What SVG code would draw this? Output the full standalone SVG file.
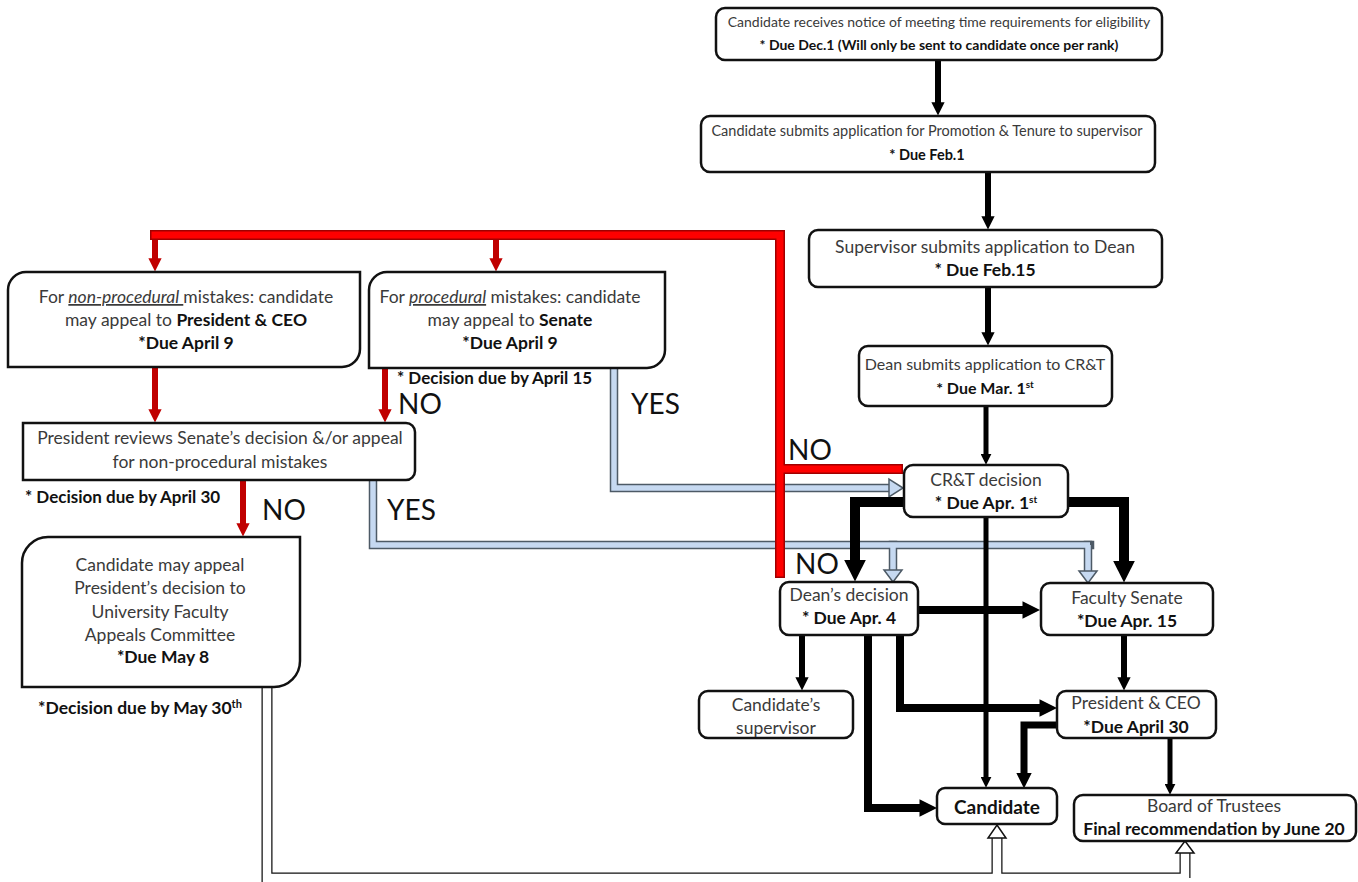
<svg xmlns="http://www.w3.org/2000/svg" width="1358" height="882" viewBox="0 0 1358 882">
<style>
.box{fill:#fff;stroke:#111;stroke-width:2.5}
.t{font-family:Lato,"Liberation Sans",sans-serif;font-size:17.5px;fill:#3a3a3a;text-anchor:middle}
.s{font-size:14px}
.b{font-weight:bold;fill:#111}
.l{text-anchor:start}
.big{font-family:Lato,"Liberation Sans",sans-serif;font-size:28px;fill:#111}
.blk{fill:none;stroke:#000;stroke-linejoin:miter;stroke-linecap:butt}
.bo{fill:none;stroke:#4d5a66;stroke-width:8.5;stroke-linecap:square;stroke-linejoin:miter}
.bi{fill:none;stroke:#c6d9f1;stroke-width:5.5;stroke-linejoin:miter}
.bh{fill:#c6d9f1;stroke:#4d5a66;stroke-width:1.5}
.ro{fill:none;stroke:#a00000;stroke-width:10;stroke-linejoin:miter}
.ri{fill:none;stroke:#ff0000;stroke-width:7;stroke-linejoin:miter}
.rt{fill:none;stroke:#c00000;stroke-width:6}
.ho{fill:none;stroke:#111;stroke-width:11;stroke-linejoin:miter}
.hi{fill:none;stroke:#fff;stroke-width:8.5;stroke-linejoin:miter}
.hh{fill:#fff;stroke:#111;stroke-width:1.5}
</style>
<defs>
<marker id="ah" viewBox="0 0 10 10" refX="2" refY="5" markerWidth="2.2" markerHeight="2.2" orient="auto" markerUnits="strokeWidth"><path d="M0,0 L10,5 L0,10 Z" fill="#000"/></marker>
<marker id="rh" viewBox="0 0 10 10" refX="2" refY="5" markerWidth="2.2" markerHeight="2.2" orient="auto" markerUnits="strokeWidth"><path d="M0,0 L10,5 L0,10 Z" fill="#c00000"/></marker>
</defs>

<g id="connectors">
  <!-- blue YES paths -->
  <path class="bo" d="M614,368 V488 H889"/>
  <path class="bo" d="M373,480 V545 H1090"/>
  <path class="bo" d="M893,545 V568"/>
  <path class="bo" d="M1088,545 V569"/>
  <path class="bi" d="M614,368 V488 H891"/>
  <path class="bi" d="M373,480 V545 H1090"/>
  <path class="bi" d="M893,545 V571"/>
  <path class="bi" d="M1088,545 V572"/>
  <polygon class="bh" points="903,488 889,479 889,497"/>
  <polygon class="bh" points="893,582 884,570 902,570"/>
  <polygon class="bh" points="1088,583 1079,571 1097,571"/>

  <!-- black flow -->
  <path class="blk" stroke-width="6" marker-end="url(#ah)" d="M938,60 V105"/>
  <path class="blk" stroke-width="6" marker-end="url(#ah)" d="M988,172 V219"/>
  <path class="blk" stroke-width="6" marker-end="url(#ah)" d="M988,287 V335"/>
  <path class="blk" stroke-width="5" marker-end="url(#ah)" d="M986,406 V456"/>
  <path class="blk" stroke-width="5" marker-end="url(#ah)" d="M986,517 V779"/>
  <path class="blk" stroke-width="10" marker-end="url(#ah)" d="M903,502 H855 V564"/>
  <path class="blk" stroke-width="10" marker-end="url(#ah)" d="M1068,502 H1124 V565"/>
  <path class="blk" stroke-width="8" marker-end="url(#ah)" d="M918,610 H1026"/>
  <path class="blk" stroke-width="6" marker-end="url(#ah)" d="M802,635 V680"/>
  <path class="blk" stroke-width="8" marker-end="url(#ah)" d="M868,635 V808 H923"/>
  <path class="blk" stroke-width="8" marker-end="url(#ah)" d="M900,635 V708 H1043"/>
  <path class="blk" stroke-width="6" marker-end="url(#ah)" d="M1124,635 V680"/>
  <path class="blk" stroke-width="7" marker-end="url(#ah)" d="M1057,725 H1024 V776"/>
  <path class="blk" stroke-width="5" marker-end="url(#ah)" d="M1170,738 V786"/>

  <!-- red NO paths -->
  <path class="ro" d="M150,235 H780 V578"/>
  <path class="ro" d="M780,469 H903"/>
  <path class="ri" d="M151.5,235 H780 V576.5"/>
  <path class="ri" d="M780,469 H901.5"/>
  <path class="rt" marker-end="url(#rh)" d="M155,240 V261"/>
  <path class="rt" marker-end="url(#rh)" d="M496,240 V261"/>
  <path class="rt" marker-end="url(#rh)" d="M155,367 V412"/>
  <path class="rt" marker-end="url(#rh)" d="M385,368 V412"/>
  <path class="rt" marker-end="url(#rh)" d="M243,480 V526"/>

  <!-- hollow path from appeals committee -->
  <path class="ho" d="M267,687 V878 H1185"/>
  <path class="ho" d="M997,878 V838"/>
  <path class="ho" d="M1185,878 V853"/>
  <path class="hi" d="M267,687 V878 H1185"/>
  <path class="hi" d="M997,878 V837"/>
  <path class="hi" d="M1185,878 V852"/>
  <polygon class="hh" points="997,825 1006,838 988,838"/>
  <polygon class="hh" points="1185,841 1194,853 1176,853"/>
</g>

<g id="labels">
  <text class="t b l" style="font-size:17px" x="397" y="384">* Decision due by April 15</text>
  <text class="big" x="398" y="414">NO</text>
  <text class="big" x="631" y="414">YES</text>
  <text class="big" x="788" y="460">NO</text>
  <text class="big" x="795" y="574">NO</text>
  <text class="t b l" style="font-size:17px" x="25" y="503">* Decision due by April 30</text>
  <text class="big" x="262" y="520">NO</text>
  <text class="big" x="387" y="520">YES</text>
  <text class="t b l" style="font-size:17.5px" x="38" y="714">*Decision due by May 30<tspan font-size="11" dy="-6">th</tspan></text>
</g>

<g id="n-notice">
  <rect class="box" x="716" y="8" width="446" height="52" rx="9"/>
  <text class="t s" x="939" y="27">Candidate receives notice of meeting time requirements for eligibility</text>
  <text class="t s b" x="939" y="50">* Due Dec.1 (Will only be sent to candidate once per rank)</text>
</g>
<g id="n-submit">
  <rect class="box" x="701" y="116" width="454" height="56" rx="9"/>
  <text class="t" style="font-size:14.5px" x="927" y="136">Candidate submits application for Promotion &amp; Tenure to supervisor</text>
  <text class="t b" style="font-size:14.5px" x="927" y="160">* Due Feb.1</text>
</g>
<g id="n-supervisor">
  <rect class="box" x="809" y="230" width="353" height="57" rx="9"/>
  <text class="t" x="985" y="253">Supervisor submits application to Dean</text>
  <text class="t b" x="985" y="276">* Due Feb.15</text>
</g>
<g id="n-dean-submits">
  <rect class="box" x="859" y="346" width="253" height="60" rx="9"/>
  <text class="t" style="font-size:16px" x="985" y="370">Dean submits application to CR&amp;T</text>
  <text class="t b" style="font-size:16px" x="985" y="394">* Due Mar. 1<tspan font-size="10" dy="-6">st</tspan></text>
</g>
<g id="n-crt">
  <rect class="box" x="904" y="465" width="164" height="52" rx="9"/>
  <text class="t" x="986" y="486">CR&amp;T decision</text>
  <text class="t b" x="986" y="509">* Due Apr. 1<tspan font-size="10" dy="-6">st</tspan></text>
</g>
<g id="n-dean-decision">
  <rect class="box" x="780" y="582" width="138" height="53" rx="9"/>
  <text class="t" x="849" y="601">Dean’s decision</text>
  <text class="t b" x="849" y="624">* Due Apr. 4</text>
</g>
<g id="n-senate">
  <rect class="box" x="1041" y="583" width="172" height="52" rx="9"/>
  <text class="t" x="1127" y="604">Faculty Senate</text>
  <text class="t b" x="1127" y="627">*Due Apr. 15</text>
</g>
<g id="n-cand-supervisor">
  <rect class="box" x="699" y="691" width="154" height="47" rx="9"/>
  <text class="t" x="776" y="711">Candidate’s</text>
  <text class="t" x="776" y="734">supervisor</text>
</g>
<g id="n-president">
  <rect class="box" x="1057" y="691" width="159" height="47" rx="9"/>
  <text class="t" x="1136" y="709">President &amp; CEO</text>
  <text class="t b" x="1136" y="733">*Due April 30</text>
</g>
<g id="n-candidate">
  <rect class="box" x="937" y="788" width="120" height="36" rx="8"/>
  <text class="t b" style="font-size:19px" x="997" y="814">Candidate</text>
</g>
<g id="n-board">
  <rect class="box" x="1074" y="795" width="282" height="46" rx="9"/>
  <text class="t" x="1214" y="812">Board of Trustees</text>
  <text class="t b" x="1214" y="835">Final recommendation by June 20</text>
</g>
<g id="n-nonproc">
  <path class="box" d="M26,272 H360 V349 A18,18 0 0 1 342,367 H8 V290 A18,18 0 0 1 26,272 Z"/>
  <text class="t" x="186" y="303">For <tspan font-style="italic" text-decoration="underline">non-procedural </tspan>mistakes: candidate</text>
  <text class="t" x="186" y="326">may appeal to <tspan class="b">President &amp; CEO</tspan></text>
  <text class="t b" x="186" y="349">*Due April 9</text>
</g>
<g id="n-proc">
  <path class="box" d="M387,272 H665 V350 A18,18 0 0 1 647,368 H369 V290 A18,18 0 0 1 387,272 Z"/>
  <text class="t" x="510" y="303">For <tspan font-style="italic" text-decoration="underline">procedural</tspan> mistakes: candidate</text>
  <text class="t" x="510" y="326">may appeal to <tspan class="b">Senate</tspan></text>
  <text class="t b" x="510" y="349">*Due April 9</text>
</g>
<g id="n-president-reviews">
  <path class="box" d="M23,423 H406 A9,9 0 0 1 415,432 V471 A9,9 0 0 1 406,480 H23 Z"/>
  <text class="t" x="220" y="444">President reviews Senate’s decision &amp;/or appeal</text>
  <text class="t" x="220" y="468">for non-procedural mistakes</text>
</g>
<g id="n-appeals-committee">
  <path class="box" d="M48,537 H300 V661 A26,26 0 0 1 274,687 H22 V563 A26,26 0 0 1 48,537 Z"/>
  <text class="t" x="160" y="571">Candidate may appeal</text>
  <text class="t" x="160" y="594">President’s decision to</text>
  <text class="t" x="160" y="618">University Faculty</text>
  <text class="t" x="160" y="641">Appeals Committee</text>
  <text class="t b" x="163" y="663">*Due May 8</text>
</g>
</svg>
